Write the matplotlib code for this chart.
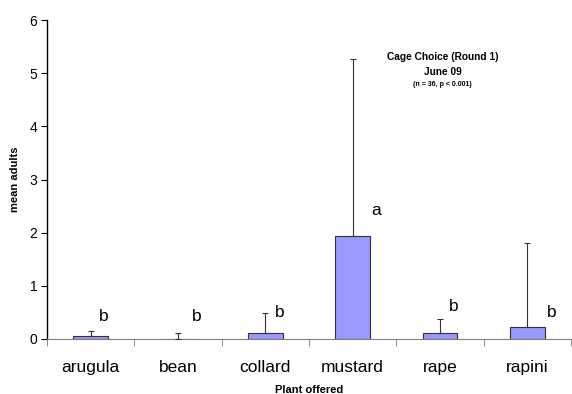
import matplotlib.pyplot as plt
import numpy as np

plt.rcParams['font.family'] = ['Liberation Sans', 'DejaVu Sans']

plants = ["arugula", "bean", "collard", "mustard", "rape", "rapini"]
means = [0.05, 0.0, 0.11, 1.94, 0.11, 0.22]
err_top = [0.15, 0.11, 0.48, 5.27, 0.37, 1.80]
letters = ["b", "b", "b", "a", "b", "b"]
letter_y = [0.43, 0.43, 0.49, 2.42, 0.62, 0.49]
letter_dx = [0.15, 0.21, 0.16, 0.27, 0.16, 0.28]

fig = plt.figure(figsize=(5.72, 3.94), dpi=100)
ax = fig.add_axes([47 / 572, 55 / 394, 524 / 572, 319 / 394])

x = np.arange(len(plants))
upper = np.array(err_top) - np.array(means)
ax.bar(x, means, width=0.4, color="#9999FF", edgecolor="#333333", linewidth=0.8, zorder=2)
ax.errorbar(x, means, yerr=[np.zeros(len(x)), upper], fmt="none",
            ecolor="#333333", elinewidth=0.8, capsize=2, capthick=0.8, zorder=3)

for i, (lt, ly, dx) in enumerate(zip(letters, letter_y, letter_dx)):
    ax.text(i + dx, ly, lt, fontsize=12.5, ha="center", va="center")

ax.set_xlim(-0.5, len(plants) - 0.5)
ax.set_ylim(0, 6)
ax.set_xticks(x)
ax.set_xticklabels(plants, fontsize=12.5)
ax.set_xticks(np.arange(len(plants) + 1) - 0.5, minor=True)
ax.tick_params(axis="x", which="major", length=0, pad=15)
ax.tick_params(axis="x", which="minor", length=5, color="#808080", direction="out")
ax.tick_params(axis="y", labelsize=10, length=4, pad=3)
ax.set_yticks(range(7))

for side in ["top", "right"]:
    ax.spines[side].set_visible(False)
ax.spines["bottom"].set_color("#808080")
ax.spines["left"].set_color("black")
ax.spines["left"].set_linewidth(1.0)

ax.set_ylabel("mean adults", fontsize=8, fontweight="bold", labelpad=7)
ax.set_xlabel("Plant offered", fontsize=8, fontweight="bold", labelpad=7)

ax.text(0.755, 0.885, "Cage Choice (Round 1)", transform=ax.transAxes, fontsize=7.3,
        fontweight="bold", ha="center", va="center")
ax.text(0.755, 0.838, "June 09", transform=ax.transAxes, fontsize=7.3,
        fontweight="bold", ha="center", va="center")
ax.text(0.755, 0.797, "(n = 36, p < 0.001)", transform=ax.transAxes, fontsize=5,
        fontweight="bold", ha="center", va="center")

fig.savefig("out.png", dpi=100)
